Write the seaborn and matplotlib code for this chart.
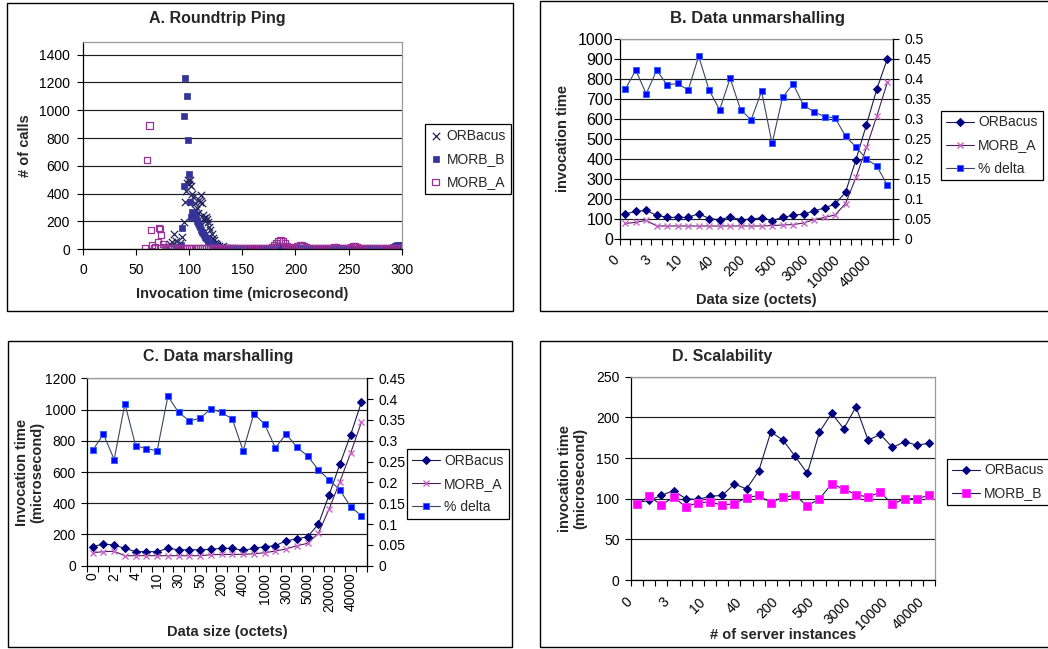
import numpy as np
import matplotlib
matplotlib.use("Agg")
import matplotlib.pyplot as plt
import matplotlib.transforms as mtransforms
from matplotlib.patches import Rectangle
import seaborn as sns

# ----------------------------------------------------------------
# Data
# ----------------------------------------------------------------

# A. Roundtrip Ping -- invocation time (microsecond) vs # of calls
orbacus_peak_x = [78, 80, 82, 84, 86, 88, 89, 91, 93, 95, 96, 97, 98, 99, 100, 101, 102, 103,
                  104, 105, 106, 107, 108, 109, 110, 111, 112, 113, 114, 115, 116, 117, 118,
                  119, 120, 121, 122, 123, 124, 125, 126, 128, 130, 132, 134, 136, 138]
orbacus_peak_y = [5, 14, 40, 55, 108, 60, 24, 45, 91, 199, 342, 420, 478, 500, 470, 498, 455, 400,
                  378, 330, 282, 300, 260, 354, 340, 390, 330, 250, 222, 200, 234, 215, 199,
                  160, 139, 110, 79, 65, 48, 40, 31, 25, 19, 22, 12, 10, 8]
orbacus_tail_x = list(range(140, 301, 4))
orbacus_tail_y = [6, 5, 4, 3, 5, 4, 3, 4, 5, 3, 4, 6, 5, 8, 10, 6, 4, 3, 5, 4,
                  3, 4, 5, 3, 4, 5, 3, 4, 3, 5, 4, 3, 4, 5, 3, 4, 3, 5, 6, 8, 10]

morb_b_peak_x = [88, 90, 92, 93, 94.7, 95.3, 96.3, 97.5, 98.4, 99.4, 100.6, 101.6, 103, 104,
                 105, 106, 107, 108, 109, 110, 111, 112, 113, 114, 115, 116, 117, 118, 119,
                 120, 122, 124, 126, 128]
morb_b_peak_y = [8, 14, 31, 155, 454, 957, 1234, 1100, 789, 545, 342, 230, 270, 258,
                 240, 222, 205, 191, 175, 163, 139, 125, 115, 100, 91, 80, 72, 60, 55,
                 43, 31, 24, 14, 7]
morb_b_tail_x = list(range(130, 301, 2))
morb_b_tail_y = [5, 4, 6, 3, 5, 4, 6, 5, 3, 4, 5, 3, 4, 6, 4, 5, 3, 4, 5, 4,
                 3, 5, 4, 6, 5, 8, 15, 22, 18, 10, 6, 4, 5, 3, 5, 8, 12, 10, 6, 4,
                 5, 3, 4, 5, 3, 4, 6, 4, 3, 5, 4, 5, 3, 6, 4, 5, 3, 4, 6, 5,
                 4, 6, 5, 3, 4, 5, 3, 6, 4, 5, 3, 4, 5, 6, 4, 3, 5, 4, 6, 8,
                 10, 15, 22, 28, 32, 30]

morb_a_peak_x = [58, 60, 62.5, 64, 65, 66.5, 68, 70.5, 71.5, 72.5, 73.5, 75, 77]
morb_a_peak_y = [7, 640, 890, 136, 31, 12, 19, 55, 151, 145, 103, 38, 18]
morb_a_tail_x = list(range(78, 301, 2))
morb_a_tail_y = [10, 6, 8, 5, 7, 9, 6, 8, 5, 7, 6,
                 8, 5, 7, 6, 9, 5, 7, 6, 8, 5,
                 6, 7, 5, 8, 6, 5, 7, 6, 8, 5,
                 6, 8, 5, 7, 9, 6, 5, 7, 6, 8,
                 6, 7, 5, 8, 6, 9, 7, 10, 12, 18,
                 30, 48, 62, 66, 58, 42, 25, 15, 12, 10,
                 18, 24, 30, 28, 22, 15, 10, 8, 7, 9,
                 6, 8, 7, 5, 9, 6, 8, 12, 15, 14,
                 10, 8, 7, 9, 6, 12, 18, 22, 20, 14,
                 10, 8, 12, 9, 7, 6, 8, 10, 7, 6,
                 8, 6, 7, 9, 6, 8, 10, 7, 8, 12, 10]

# Category axis used by B, C and D (data size in octets / # of instances)
size_labels = ["0", "1", "2", "3", "4", "5", "10", "20", "30", "40", "50", "100", "200",
               "300", "400", "500", "1000", "2000", "3000", "4000", "5000", "10000",
               "20000", "30000", "40000", "50000"]

# B. Data unmarshalling
orbacus_unmarshal = [125, 138, 143, 118, 108, 108, 108, 127, 102, 97, 110, 97, 98, 107, 92,
                     108, 118, 125, 140, 155, 175, 233, 397, 572, 752, 902]
morb_a_unmarshal = [78, 83, 93, 65, 65, 65, 65, 65, 65, 65, 65, 65, 65, 65, 67, 70, 72, 80,
                    97, 108, 120, 177, 308, 458, 617, 785]
delta_unmarshal = [0.374, 0.422, 0.363, 0.422, 0.385, 0.389, 0.372, 0.457, 0.372, 0.323,
                   0.402, 0.323, 0.298, 0.369, 0.239, 0.354, 0.388, 0.334, 0.318, 0.306,
                   0.303, 0.257, 0.230, 0.200, 0.182, 0.134]

# C. Data marshalling
orbacus_marshal = [122, 139, 132, 111, 90, 90, 90, 111, 102, 102, 102, 105, 111, 111, 98,
                   111, 122, 128, 160, 171, 186, 265, 453, 649, 837, 1046]
morb_a_marshal = [83, 90, 92, 64, 64, 64, 64, 64, 64, 64, 64, 70, 72, 72, 73, 76, 83, 94,
                  107, 128, 143, 207, 363, 538, 720, 918]
delta_marshal = [0.277, 0.316, 0.255, 0.389, 0.288, 0.281, 0.276, 0.407, 0.368, 0.348,
                 0.354, 0.377, 0.368, 0.352, 0.276, 0.365, 0.340, 0.283, 0.316, 0.285,
                 0.263, 0.231, 0.206, 0.182, 0.142, 0.120]

# D. Scalability (25 server-instance categories)
orbacus_scal = [95, 98, 104, 110, 100, 99, 103, 104, 118, 112, 134, 182, 172, 152, 131,
                182, 205, 186, 213, 172, 179, 163, 170, 166, 168]
morb_b_scal = [94, 103, 92, 102, 90, 95, 96, 92, 94, 101, 104, 95, 102, 104, 91, 100, 118,
               112, 105, 102, 108, 93, 100, 100, 104]

# ----------------------------------------------------------------
# Plotting
# ----------------------------------------------------------------
sns.set_theme(style="white")
plt.rcParams["font.family"] = ["Liberation Sans", "DejaVu Sans"]

W, H = 1048, 649
fig = plt.figure(figsize=(W / 100, H / 100), dpi=100)
fig.patch.set_facecolor("white")


def rect(x0, y0, x1, y1):
    # pixel box (top-left origin) -> figure fraction
    return [x0 / W, 1 - y1 / H, (x1 - x0) / W, (y1 - y0) / H]


def frame(x0, y0, x1, y1):
    fig.add_artist(Rectangle((x0 / W, 1 - y1 / H), (x1 - x0) / W, (y1 - y0) / H,
                             transform=fig.transFigure, fill=False, ec="black", lw=1.0))


def excel_style(ax, ypad):
    ax.set_facecolor("white")
    ax.grid(False)
    ax.yaxis.grid(True, color="#1e1e1e", lw=0.85)
    ax.set_axisbelow(True)
    for s in ["left", "bottom"]:
        ax.spines[s].set_color("black")
    for s in ["top", "right"]:
        ax.spines[s].set_color("#9a9a9a")
    for s in ax.spines.values():
        s.set_linewidth(0.9)
    ax.tick_params(axis="y", which="both", left=True, direction="out", length=4, width=0.8,
                   colors="black", labelsize=10, pad=ypad)
    ax.tick_params(axis="x", which="both", bottom=True, direction="out", length=4, width=0.8,
                   colors="black", labelsize=10)


def right_axis(ax2, top, step, pad):
    ax2.grid(False)
    ax2.set_ylim(0, top)
    ticks = np.round(np.arange(0, top + 1e-9, step), 2)
    ax2.set_yticks(ticks)
    ax2.set_yticklabels([f"{t:g}" for t in ticks])
    for s in ["left", "top", "bottom"]:
        ax2.spines[s].set_visible(False)
    ax2.spines["right"].set_color("black")
    ax2.spines["right"].set_linewidth(0.9)
    ax2.tick_params(axis="y", right=True, direction="out", length=4, width=0.8,
                    colors="black", labelsize=10, pad=pad)
    ax2.set_ylabel("")


def category_axis(ax, labels, step, rotation, dx_px, pad):
    n = len(labels)
    ax.set_xlim(-0.5, n - 0.5)
    ax.set_xticks(np.arange(-0.5, n, 1.0), minor=True)
    major = list(range(0, n, step))
    ax.set_xticks(major)
    ax.set_xticklabels([labels[i] for i in major], rotation=rotation, ha="right",
                       va="center", rotation_mode="anchor")
    ax.tick_params(axis="x", which="major", length=0, pad=pad)
    ax.tick_params(axis="x", which="minor", length=4)
    shift = mtransforms.ScaledTranslation(dx_px / 100, 0, fig.dpi_scale_trans)
    for lab in ax.get_xticklabels():
        lab.set_transform(lab.get_transform() + shift)


def place_labels(ax, xlabel, ylabel, xl_y, yl_x):
    ax.set_xlabel(xlabel, fontsize=10.5, fontweight="bold")
    ax.set_ylabel(ylabel, fontsize=10.5, fontweight="bold", linespacing=1.1)
    ax.xaxis.label.set_va("center")
    ax.yaxis.label.set_va("center")
    ax.xaxis.set_label_coords(0.5, xl_y)
    ax.yaxis.set_label_coords(yl_x, 0.5)


def boxed_legend(ax, handles, labels, cx, cy, **kw):
    leg = ax.legend(handles, labels, loc="center", bbox_to_anchor=(cx / W, 1 - cy / H),
                    bbox_transform=fig.transFigure, frameon=True, fancybox=False,
                    edgecolor="black", framealpha=1, fontsize=10, borderpad=0.35,
                    labelspacing=0.65, borderaxespad=0, **kw)
    leg.get_frame().set_linewidth(0.9)
    return leg


# chart-area borders
frame(7, 3, 513, 311)
frame(540, 1, 1052, 311)
frame(8, 341, 512, 647)
frame(540, 341, 1052, 647)

# --- A. Roundtrip Ping ---
axA = fig.add_axes(rect(83, 41.7, 401.7, 249.3))
sns.scatterplot(x=orbacus_peak_x + orbacus_tail_x, y=orbacus_peak_y + orbacus_tail_y,
                marker="x", s=28, color="#22225e", linewidth=0.9, label="ORBacus",
                legend=False, ax=axA)
sns.scatterplot(x=morb_b_peak_x + morb_b_tail_x, y=morb_b_peak_y + morb_b_tail_y,
                marker="s", s=20, color="#333399", edgecolor="#333399", linewidth=0.5,
                label="MORB_B", legend=False, ax=axA)
sns.scatterplot(x=morb_a_peak_x + morb_a_tail_x, y=morb_a_peak_y + morb_a_tail_y,
                marker="s", s=20, color="#993399", facecolor="none", edgecolor="#993399",
                linewidth=0.9, label="MORB_A", legend=False, ax=axA)
excel_style(axA, ypad=5.5)
axA.set_xlim(0, 300)
axA.set_ylim(0, 1493)
axA.set_xticks(range(0, 301, 50))
axA.set_yticks(range(0, 1401, 200))
axA.tick_params(axis="x", pad=6)
place_labels(axA, "Invocation time (microsecond)", "# of calls", -0.217, -0.182)
h, l = axA.get_legend_handles_labels()
boxed_legend(axA, h, l, 468, 159, handlelength=0.8, handletextpad=0.4)
fig.text(217 / W, 1 - 18 / H, "A. Roundtrip Ping", ha="center", va="center",
         fontsize=11.5, fontweight="bold")

# --- B. Data unmarshalling ---
axB = fig.add_axes(rect(620, 39, 892.7, 239))
pos_b = list(range(len(size_labels)))
sns.lineplot(x=pos_b, y=orbacus_unmarshal, ax=axB, color="#1a1a50", lw=0.8, marker="D",
             markersize=4.5, markerfacecolor="#000080", markeredgecolor="#000080",
             label="ORBacus", legend=False)
sns.lineplot(x=pos_b, y=morb_a_unmarshal, ax=axB, color="#4a1f55", lw=0.8, marker="x",
             markersize=5, markeredgecolor="#cc66cc", markeredgewidth=1.0,
             label="MORB_A", legend=False)
axB2 = axB.twinx()
sns.lineplot(x=pos_b, y=delta_unmarshal, ax=axB2, color="#3c4660", lw=0.8, marker="s",
             markersize=5, markerfacecolor="#0000ff", markeredgecolor="#3366ff",
             label="% delta", legend=False)
excel_style(axB, ypad=1)
axB.tick_params(axis="y", labelsize=11.5)
axB.set_ylim(0, 1000)
axB.set_yticks(range(0, 1001, 100))
right_axis(axB2, 0.5, 0.05, pad=4.5)
category_axis(axB, size_labels, 3, 45, -8, 13.5)
place_labels(axB, "Data size (octets)", "invocation time", -0.305, -0.209)
h1, l1 = axB.get_legend_handles_labels()
h2, l2 = axB2.get_legend_handles_labels()
boxed_legend(axB2, h1 + h2, l1 + l2, 992, 145.5, handlelength=2.0, handletextpad=0.3)
fig.text(757 / W, 1 - 18 / H, "B. Data unmarshalling", ha="center", va="center",
         fontsize=12, fontweight="bold")

# --- C. Data marshalling ---
axC = fig.add_axes(rect(87.3, 378.3, 366.7, 565.7))
pos_c = list(range(len(size_labels)))
sns.lineplot(x=pos_c, y=orbacus_marshal, ax=axC, color="#1a1a50", lw=0.8, marker="D",
             markersize=4.5, markerfacecolor="#000080", markeredgecolor="#000080",
             label="ORBacus", legend=False)
sns.lineplot(x=pos_c, y=morb_a_marshal, ax=axC, color="#4a1f55", lw=0.8, marker="x",
             markersize=5, markeredgecolor="#cc66cc", markeredgewidth=1.0,
             label="MORB_A", legend=False)
axC2 = axC.twinx()
sns.lineplot(x=pos_c, y=delta_marshal, ax=axC2, color="#3c4660", lw=0.8, marker="s",
             markersize=5, markerfacecolor="#0000ff", markeredgecolor="#3366ff",
             label="% delta", legend=False)
excel_style(axC, ypad=4.3)
axC.set_ylim(0, 1200)
axC.set_yticks(range(0, 1201, 200))
right_axis(axC2, 0.45, 0.05, pad=4.3)
category_axis(axC, size_labels, 2, 90, 0, 5)
place_labels(axC, "Data size (octets)", "Invocation time\n(microsecond)", -0.352, -0.205)
h1, l1 = axC.get_legend_handles_labels()
h2, l2 = axC2.get_legend_handles_labels()
boxed_legend(axC2, h1 + h2, l1 + l2, 458, 484, handlelength=2.0, handletextpad=0.3)
fig.text(218 / W, 1 - 356 / H, "C. Data marshalling", ha="center", va="center",
         fontsize=11.5, fontweight="bold")

# --- D. Scalability ---
axD = fig.add_axes(rect(631, 376.7, 935, 580))
pos_d = list(range(len(orbacus_scal)))
sns.lineplot(x=pos_d, y=orbacus_scal, ax=axD, color="#1a1a50", lw=0.8, marker="D",
             markersize=4.5, markerfacecolor="#000080", markeredgecolor="#000080",
             label="ORBacus", legend=False)
sns.lineplot(x=pos_d, y=morb_b_scal, ax=axD, color="#1a1a50", lw=0.8, marker="s",
             markersize=5.5, markerfacecolor="#ff00ff", markeredgecolor="#ff33ff",
             label="MORB_B", legend=False)
excel_style(axD, ypad=4.3)
axD.set_ylim(0, 250)
axD.set_yticks(range(0, 251, 50))
category_axis(axD, size_labels[:len(orbacus_scal)], 3, 45, -7, 14.5)
place_labels(axD, "# of server instances", "invocation time\n(microsecond)", -0.2705, -0.191)
h, l = axD.get_legend_handles_labels()
boxed_legend(axD, h, l, 998, 482, handlelength=2.0, handletextpad=0.3)
fig.text(722 / W, 1 - 356.7 / H, "D. Scalability", ha="center", va="center",
         fontsize=11.5, fontweight="bold")

fig.savefig("out.png", dpi=100, facecolor="white")
